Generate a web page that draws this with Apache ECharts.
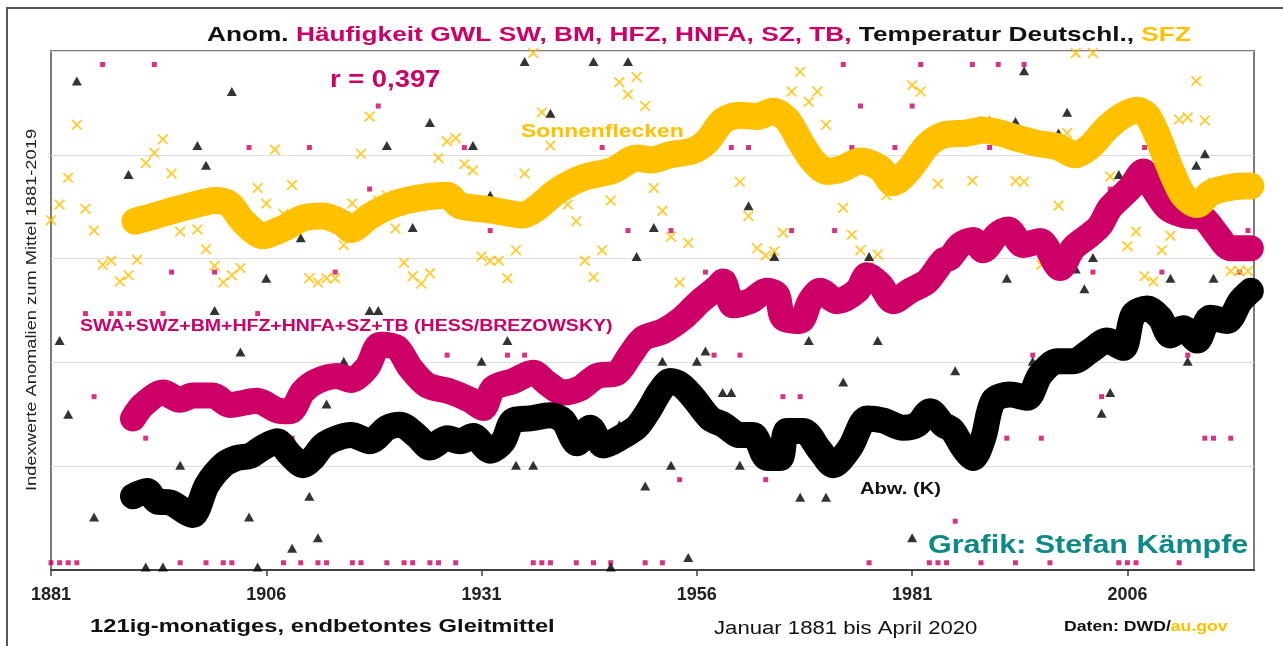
<!DOCTYPE html>
<html>
<head>
<meta charset="utf-8">
<script src="https://cdn.jsdelivr.net/npm/echarts@6.0.0/dist/echarts.min.js"></script>
<style>
html,body{margin:0;padding:0;background:#ffffff;}
#c{width:1283px;height:646px;}
</style>
</head>
<body>
<div id="c"></div>
<script>
// ---------------- data ----------------
const FIRST_YEAR = 1881;
const TICK_YEARS = [1881, 1906, 1931, 1956, 1981, 2006];

// annual anomalies (index units, 1 unit = 1 grid step), 1881..2020
const sfzAnnual = [
  3.37,3.52,3.78,4.29,3.48,3.27,2.94,2.98,2.78,2.84,
  2.99,3.92,4.02,4.15,3.82,3.26,3.47,3.28,3.09,2.93,
  2.77,2.84,2.91,3.32,3.68,3.53,4.05,3.43,3.71,3.39,
  2.81,2.77,2.81,2.81,3.13,3.53,4.01,4.37,3.56,3.61,
  3.29,2.96,2.83,2.76,2.86,3.97,4.13,4.16,3.91,3.85,
  3.02,2.98,2.98,2.81,3.08,3.82,4.98,4.41,4.09,3.66,
  3.52,3.36,2.98,2.82,3.08,3.56,4.70,4.58,4.75,4.47,
  3.68,3.46,3.21,2.77,3.15,4.05,5.2,5.2,5.2,4.37,
  3.74,3.41,3.10,3.03,3.07,3.25,4.61,4.80,4.51,4.61,
  4.29,3.90,3.49,3.23,3.08,2.92,3.04,3.61,5.2,5.2,
  4.67,4.61,4.09,3.72,3.05,3.10,3.13,3.75,5.2,5.2,
  5.2,4.17,3.75,3.74,3.15,2.94,3.08,3.51,4.21,4.98,
  5.2,4.98,4.26,3.79,3.56,3.12,3.26,2.83,2.78,3.08,
  3.22,4.34,4.36,4.71,4.33,3.73,3.66,2.88,2.88,2.88
];
const tempAnnual = [
  -0.2,2.21,1.50,4.71,-0.2,0.51,-0.2,-0.2,-0.2,3.81,
  -0.2,0.03,0.67,0.03,-0.2,1.01,0.55,4.09,3.90,2.50,
  1.01,4.61,2.10,0.51,0.03,2.81,1.24,1.18,0.21,3.20,
  0.71,0.31,1.60,1.27,2.01,1.27,1.24,2.50,2.50,4.09,
  1.40,1.35,3.30,1.25,4.31,1.82,1.27,1.24,1.25,4.09,
  2.01,3.61,1.20,2.21,1.01,4.90,1.01,1.47,4.40,1.45,
  1.35,1.22,1.40,4.90,1.25,0.03,1.40,4.90,3.02,0.81,
  3.30,2.01,1.01,1.78,0.12,2.01,2.11,1.44,1.71,1.71,
  1.01,3.51,1.20,1.13,3.02,1.20,1.34,0.70,2.21,1.16,
  0.70,1.04,1.81,1.20,1.35,3.02,2.21,1.43,1.40,1.37,
  0.31,1.40,1.53,1.45,1.35,1.92,1.18,1.11,4.33,4.33,
  1.65,2.81,4.32,4.81,2.01,1.88,1.97,4.21,4.41,2.90,
  2.71,3.01,1.51,1.71,3.81,2.17,2.46,2.52,2.49,2.43,
  2.81,2.31,2.01,3.90,4.01,2.81,2.41,2.43,2.55,2.65
];
const gwlAnnual = [
  0.07,0.07,0.07,0.07,2.47,1.67,4.87,2.47,2.47,2.47,
  1.54,1.27,4.87,2.47,2.87,0.07,1.66,1.68,0.07,2.87,
  0.07,0.07,1.61,4.07,2.47,1.27,1.27,0.07,1.27,0.07,
  4.07,0.07,0.07,2.87,1.89,0.07,0.07,3.67,4.47,0.07,
  2.14,0.07,0.07,1.83,0.07,0.07,2.07,0.07,4.07,1.62,
  1.56,3.27,1.78,2.07,1.83,2.07,0.07,0.07,0.07,1.72,
  1.71,0.07,1.78,0.07,4.07,0.07,1.93,3.27,2.22,0.07,
  2.26,0.07,3.27,0.87,2.46,2.57,2.87,2.07,2.87,4.07,
  2.07,4.07,2.62,0.87,1.27,1.67,3.27,1.67,2.55,2.67,
  2.64,3.27,4.87,4.07,4.47,0.07,2.76,2.67,4.07,2.66,
  4.47,4.87,0.07,0.07,0.07,0.47,3.15,4.87,0.07,4.07,
  4.87,1.27,0.07,4.87,2.07,1.27,0.07,2.94,3.05,3.13,
  3.18,2.87,1.67,3.67,0.07,0.07,0.07,4.07,3.68,2.87,
  3.47,0.07,2.07,3.40,1.27,1.27,3.18,1.27,2.87,3.27
];

// 121-month end-weighted moving averages: [year, value]
const sfzLine = [[1890.76,3.36],[1892.15,3.39],[1896.33,3.49],[1900.28,3.56],[1901.79,3.52],[1903.30,3.36],[1905.62,3.22],[1907.94,3.29],[1910.27,3.39],[1912.59,3.41],[1914.91,3.34],[1915.8,3.28],[1918.05,3.41],[1920.72,3.52],[1923.51,3.58],[1926.99,3.61],[1928.50,3.51],[1931.99,3.47],[1935.82,3.42],[1937.45,3.49],[1939.77,3.65],[1942.79,3.78],[1946.27,3.85],[1949.06,3.97],[1950.7,3.95],[1952.9,4.00],[1955.56,4.04],[1957.19,4.13],[1959.05,4.33],[1961.02,4.38],[1963.0,4.37],[1964.86,4.42],[1966.48,4.34],[1967.99,4.13],[1969.50,3.94],[1971.13,3.84],[1972.99,3.87],[1974.96,3.94],[1977.28,3.87],[1978.79,3.73],[1980.77,3.87],[1982.74,4.09],[1984.60,4.19],[1987.39,4.21],[1989.25,4.24],[1991.22,4.21],[1993.19,4.16],[1995.52,4.11],[1997.84,4.08],[1999.93,4.00],[2001.67,4.08],[2003.65,4.26],[2005.51,4.38],[2007.13,4.43],[2008.29,4.38],[2009.46,4.19],[2010.97,3.87],[2012.48,3.61],[2014.10,3.52],[2015.61,3.63],[2017.59,3.68],[2019.45,3.70],[2020.33,3.70]];
const gwlLine = [[1890.52,1.46],[1891.69,1.59],[1894.01,1.71],[1895.98,1.64],[1897.49,1.68],[1899.81,1.68],[1901.79,1.59],[1904.93,1.63],[1907.25,1.54],[1908.76,1.53],[1910.27,1.72],[1911.89,1.82],[1914.22,1.87],[1915.84,1.83],[1917.70,1.95],[1919.21,2.17],[1921.19,2.14],[1922.70,1.95],[1924.67,1.78],[1927.34,1.72],[1929.66,1.64],[1931.17,1.56],[1932.34,1.75],[1934.66,1.82],[1936.98,1.90],[1938.61,1.80],[1940.47,1.71],[1942.44,1.75],[1944.41,1.87],[1946.74,1.90],[1948.25,2.07],[1949.76,2.23],[1952.08,2.30],[1954.40,2.43],[1956.38,2.59],[1958.35,2.72],[1959.05,2.78],[1960.21,2.55],[1962.18,2.59],[1964.16,2.69],[1965.32,2.65],[1966.02,2.43],[1967.99,2.40],[1969.15,2.59],[1970.31,2.69],[1972.29,2.59],[1974.61,2.69],[1975.77,2.84],[1977.28,2.75],[1978.79,2.59],[1980.77,2.69],[1982.74,2.78],[1984.60,2.98],[1985.41,3.01],[1986.58,3.13],[1988.08,3.18],[1989.25,3.08],[1990.87,3.23],[1992.15,3.28],[1993.89,3.13],[1995.87,3.17],[1998.19,2.91],[1999.70,3.10],[2001.67,3.23],[2002.83,3.32],[2003.99,3.49],[2006.32,3.68],[2007.83,3.84],[2008.99,3.68],[2010.62,3.49],[2012.48,3.42],[2014.80,3.39],[2016.43,3.23],[2017.94,3.10],[2019.45,3.10],[2020.33,3.10]];
const tempLine = [[1890.52,0.71],[1892.15,0.76],[1893.31,0.66],[1894.82,0.65],[1896.80,0.55],[1897.49,0.53],[1899.12,0.82],[1900.98,1.01],[1902.60,1.08],[1904.11,1.10],[1905.62,1.18],[1907.25,1.24],[1908.76,1.11],[1910.27,1.01],[1911.43,1.08],[1912.59,1.20],[1914.22,1.27],[1915.84,1.30],[1918.05,1.24],[1920.02,1.37],[1921.53,1.40],[1923.51,1.29],[1925.02,1.18],[1926.99,1.27],[1928.50,1.24],[1930.01,1.29],[1931.99,1.15],[1933.50,1.24],[1934.66,1.44],[1936.63,1.46],[1938.96,1.49],[1940.47,1.44],[1942.09,1.22],[1943.60,1.37],[1945.11,1.20],[1947.43,1.29],[1949.06,1.38],[1950.5,1.55],[1951.7,1.72],[1952.9,1.82],[1954.2,1.78],[1955.6,1.66],[1957.54,1.46],[1959.05,1.40],[1961.02,1.30],[1962.53,1.30],[1964.16,1.08],[1965.67,1.08],[1966.48,1.34],[1968.34,1.34],[1970.31,1.15],[1971.82,1.01],[1973.80,1.18],[1975.77,1.46],[1977.63,1.44],[1979.95,1.37],[1981.58,1.40],[1983.09,1.53],[1984.60,1.40],[1985.64,1.35],[1986.92,1.18],[1988.08,1.08],[1989.25,1.27],[1990.41,1.63],[1992.38,1.69],[1994.36,1.66],[1995.87,1.88],[1997.84,2.01],[1999.70,2.01],[2001.67,2.11],[2003.65,2.21],[2005.51,2.14],[2006.67,2.46],[2008.29,2.52],[2009.80,2.43],[2010.97,2.26],[2012.48,2.33],[2014.10,2.21],[2015.61,2.43],[2017.59,2.40],[2019.10,2.59],[2020.33,2.69]];

// ---------------- chart ----------------
const C_SFZ = '#FFC000', C_GWL = '#CC0066', C_TMP = '#000000', C_TEAL = '#0d8a86';
const FONT = '"Liberation Sans", Arial, Helvetica, sans-serif';
const rel = y => +(y - FIRST_YEAR).toFixed(3);
const annualPts = arr => arr.map((v, i) => [i, v]);
const linePts = arr => arr.map(p => [rel(p[0]), p[1]]);
const X_SYMBOL = 'path://M0,1.2L1.2,0L5,3.8L8.8,0L10,1.2L6.2,5L10,8.8L8.8,10L5,6.2L1.2,10L0,8.8L3.8,5Z';

function label(x, y, text, size, color, sx, weight, extra) {
  return Object.assign({
    type: 'text', x: x, y: y, scaleX: sx, silent: true, z: 100,
    style: { text: text, fill: color, font: (weight || 'bold') + ' ' + size + 'px ' + FONT,
             textAlign: 'left', textVerticalAlign: 'middle' }
  }, extra || {});
}
const rs = (c) => ({ fill: c, color: c, fontSize: 21, fontWeight: 'bold', fontFamily: FONT });

const chart = echarts.init(document.getElementById('c'));
chart.setOption({
  animation: false,
  backgroundColor: '#ffffff',
  grid: { left: 51, right: 29, top: 51, bottom: 76, show: true, borderColor: '#7a7a7a', borderWidth: 2 },
  xAxis: {
    type: 'value', min: 0, max: 2020.7 - FIRST_YEAR, interval: 25,
    axisLine: { show: true, lineStyle: { color: '#404040', width: 2 } },
    axisTick: { show: true, length: 6, customValues: TICK_YEARS.map(rel), lineStyle: { color: '#404040', width: 1.5 } },
    axisLabel: { customValues: TICK_YEARS.map(rel), formatter: v => String(Math.round(v + FIRST_YEAR)),
                 fontSize: 18, fontWeight: 'bold', color: '#222', fontFamily: FONT, margin: 16 },
    splitLine: { show: false }
  },
  yAxis: {
    type: 'value', min: 0, max: 5, interval: 1,
    axisLabel: { show: false }, axisLine: { show: false }, axisTick: { show: false },
    splitLine: { show: true, lineStyle: { color: '#dcdcdc', width: 1 } }
  },
  series: [
    { name: 'GWL jährlich', type: 'scatter', data: annualPts(gwlAnnual), symbol: 'rect', symbolSize: 5,
      itemStyle: { color: C_GWL }, z: 2, clip: true },
    { name: 'SFZ jährlich', type: 'scatter', data: annualPts(sfzAnnual), symbol: X_SYMBOL, symbolSize: 11,
      itemStyle: { color: C_SFZ }, z: 2, clip: true },
    { name: 'Temperatur jährlich', type: 'scatter', data: annualPts(tempAnnual), symbol: 'triangle', symbolSize: [10, 9],
      itemStyle: { color: C_TMP }, z: 2, clip: true },
    { name: 'GWL Gleitmittel', type: 'line', data: linePts(gwlLine), showSymbol: false, symbol: 'none', smooth: 0.3,
      lineStyle: { color: C_GWL, width: 26, cap: 'round', join: 'round' }, z: 3 },
    { name: 'Temperatur Gleitmittel', type: 'line', data: linePts(tempLine), showSymbol: false, symbol: 'none', smooth: 0.3,
      lineStyle: { color: C_TMP, width: 26, cap: 'round', join: 'round' }, z: 3 },
    { name: 'SFZ Gleitmittel', type: 'line', data: linePts(sfzLine), showSymbol: false, symbol: 'none', smooth: 0.3,
      lineStyle: { color: C_SFZ, width: 27, cap: 'round', join: 'round' }, z: 4 }
  ],
  graphic: [
    { type: 'rect', silent: true, z: -10, shape: { x: 7, y: 8, width: 1300, height: 700 },
      style: { fill: 'none', stroke: '#555', lineWidth: 2 } },
    { type: 'text', x: 207, y: 35, scaleX: 1.25, silent: true, z: 100,
      style: { text: '{k|Anom. }{m|Häufigkeit GWL SW, BM, HFZ, HNFA, SZ, TB, }{k|Temperatur Deutschl., }{y|SFZ}',
               font: 'bold 21px ' + FONT, textAlign: 'left', textVerticalAlign: 'middle',
               rich: { k: rs('#111111'), m: rs(C_GWL), y: rs(C_SFZ) } } },
    label(330, 81, 'r = 0,397', 23, C_GWL, 1.19),
    label(521, 132, 'Sonnenflecken', 18, C_SFZ, 1.27),
    label(80, 327, 'SWA+SWZ+BM+HFZ+HNFA+SZ+TB (HESS/BREZOWSKY)', 16, C_GWL, 1.22),
    label(860, 490, 'Abw. (K)', 16, '#111', 1.26),
    label(928, 546, 'Grafik: Stefan Kämpfe', 25, C_TEAL, 1.22),
    label(90, 627, '121ig-monatiges, endbetontes Gleitmittel', 18, '#111', 1.32),
    label(714, 629, 'Januar 1881 bis April 2020', 18, '#111', 1.23, 'normal'),
    { type: 'text', x: 1064, y: 627, scaleX: 1.26, silent: true, z: 100,
      style: { text: '{k|Daten: DWD/}{y|au.gov}', font: 'bold 14px ' + FONT, textAlign: 'left', textVerticalAlign: 'middle',
               rich: { k: { fill: '#111', color: '#111', fontSize: 14, fontWeight: 'bold', fontFamily: FONT },
                       y: { fill: C_SFZ, color: C_SFZ, fontSize: 14, fontWeight: 'bold', fontFamily: FONT } } } },
    { type: 'text', x: 32, y: 310, rotation: Math.PI / 2, scaleX: 1.22, silent: true, z: 100,
      style: { text: 'Indexwerte Anomalien zum Mittel 1881-2019', fill: '#222', font: '15px ' + FONT,
               textAlign: 'center', textVerticalAlign: 'middle' } }
  ]
});
</script>
</body>
</html>
